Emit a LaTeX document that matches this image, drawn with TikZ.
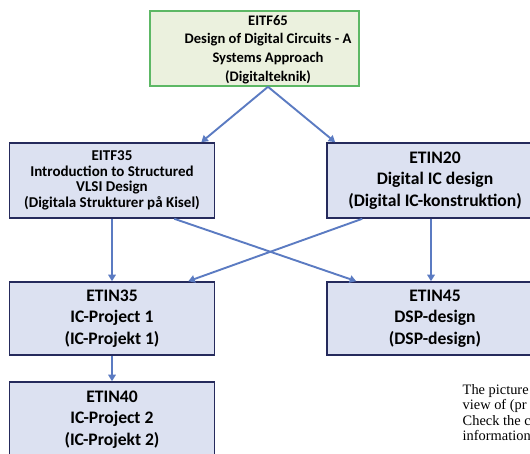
\documentclass[tikz,border=0pt]{standalone}
\usepackage{fontspec}
\setmainfont{Carlito}
\newfontfamily\notefont{Liberation Serif}
\usetikzlibrary{arrows.meta}

\definecolor{greenfill}{HTML}{EBF1DE}
\definecolor{greenedge}{HTML}{5DB865}
\definecolor{bluefill}{HTML}{DCE1F1}
\definecolor{blueedge}{HTML}{252A5C}
\definecolor{arrowblue}{HTML}{5B7BC2}

\tikzset{
  course/.style={draw=blueedge, fill=bluefill, line width=1.6pt,
    rectangle, inner sep=0pt, align=center, font=\bfseries},
  basecourse/.style={draw=greenedge, fill=greenfill, line width=1.6pt,
    rectangle, inner sep=0pt},
  prereq/.style={draw=arrowblue, line width=1.9pt,
    -{Triangle[length=6.5pt,width=7.5pt]}},
  small/.style={font=\bfseries\fontsize{14.6}{18.6}\selectfont},
  mid/.style={font=\bfseries\fontsize{15}{15.5}\selectfont},
  large/.style={font=\bfseries\fontsize{17.6}{21.5}\selectfont},
}

\begin{document}
\begin{tikzpicture}[x=1pt, y=-1pt]
  \useasboundingbox (0,0) rectangle (530,453);
  \fill[white] (0,0) rectangle (530,453);
  \clip (0,0) rectangle (530,453);

  % first-year course
  \node[basecourse, minimum width=209pt, minimum height=75pt] (eitf65) at (254.5,48.5) {};
  \node[small, align=center, inner sep=0pt] (eitf65txt) at (268,49.5)
    {EITF65\\Design of Digital Circuits - A\\Systems Approach\\(Digitalteknik)};

  % second level
  \node[course, mid, minimum width=205pt, minimum height=75pt] (eitf35) at (112,180.5)
    {EITF35\\Introduction to Structured\\VLSI Design\\(Digitala Strukturer på Kisel)};
  \node[course, large, minimum width=216pt, minimum height=75pt] (etin20) at (435,180.5)
    {ETIN20\\Digital IC design\\(Digital IC-konstruktion)};

  % third level
  \node[course, large, minimum width=205pt, minimum height=73pt] (etin35) at (112,318.5)
    {ETIN35\\IC-Project 1\\(IC-Projekt 1)};
  \node[course, large, minimum width=216pt, minimum height=73pt] (etin45) at (435,318.5)
    {ETIN45\\DSP-design\\(DSP-design)};

  % fourth level
  \node[course, large, minimum width=205pt, minimum height=75pt] (etin40) at (112,419.5)
    {ETIN40\\IC-Project 2\\(IC-Projekt 2)};

  % prerequisite arrows
  \draw[prereq] (eitf65txt |- eitf65.south) -- ([xshift=-14pt]eitf35.north east);
  \draw[prereq] (eitf65txt |- eitf65.south) -- ([xshift=9pt]etin20.north west);
  \draw[prereq] (eitf35.south) -- (etin35.north);
  \draw[prereq] ([xshift=-4pt]etin20.south) -- ([xshift=-4pt]etin45.north);
  \draw[prereq] ([xshift=-41pt]eitf35.south east) -- ([xshift=30pt]etin45.north west);
  \draw[prereq] ([xshift=36pt]etin20.south west) -- ([xshift=-27pt]etin35.north east);
  \draw[prereq] (etin35.south) -- (etin40.north);

  % side note
  \node[anchor=north west, align=left, inner sep=0pt,
        font=\notefont\fontsize{14.4}{15.5}\selectfont] (note) at (462.5,384)
    {The picture\\view of (pr\\Check the c\\information};
\end{tikzpicture}
\end{document}
